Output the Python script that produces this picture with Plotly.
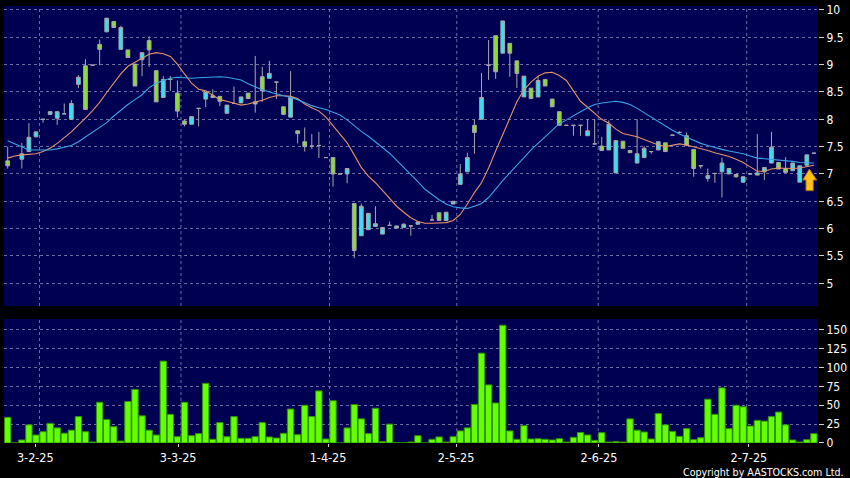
import plotly.graph_objects as go

# ---------------- data (one slot per trading day) ----------------
opens = [7.24, None, 7.27, 7.41, 7.68, 8.00, 8.09, 8.02, 8.10, 8.00,
         8.64, 8.98, 8.99, 9.37, 9.60, 9.79, 9.28, 9.27, 9.01, 9.09,
         9.44, 8.89, 8.40, 8.73, 8.48, 7.97, 7.91, 8.20, 8.37, 8.40,
         8.42, 8.11, 8.29, 8.30, 8.48, 8.28, 8.78, 8.75, 8.68, 8.23,
         8.04, 7.79, 7.59, 7.51, 7.52, 7.30, 7.30, 7.00, 7.00, 6.46,
         5.87, 5.98, 6.04, 5.90, 6.06, 6.01, 6.02, 6.05, 6.08, None,
         6.16, 6.29, 6.15, 6.45, 6.81, 7.04, 7.89, 8.00, 8.99, 9.53,
         9.21, 9.39, 9.07, 8.41, 8.57, 8.41, 8.73, 8.37, 8.14, 7.89,
         7.89, 7.89, 7.70, 7.55, 7.51, 7.44, 7.02, 7.60, 7.43, 7.20,
         7.30, 7.41, 7.44, 7.57, 7.71, 7.76, 7.70, 7.45, 7.15, 6.92,
         7.01, 7.04, 7.00, 6.99, 6.85, 7.00, 6.98, 7.04, 7.20, 7.21,
         7.10, 7.06, 6.85, 7.16, 7.38]
highs = [7.50, None, 7.57, 7.93, 7.78, 8.00, 8.14, 8.14, 8.29, 8.35,
         8.81, 9.10, 8.99, 9.46, 9.85, 9.79, 9.71, 9.27, 9.01, 9.22,
         9.52, 8.89, 8.79, 8.79, 8.71, 8.00, 8.05, 8.20, 8.50, 8.55,
         8.42, 8.26, 8.60, 8.41, 8.48, 9.16, 8.96, 9.07, 8.68, 8.23,
         8.88, 7.79, 7.85, 7.73, 7.77, 7.30, 7.30, 7.00, 7.10, 6.46,
         6.46, 6.28, 6.41, 6.02, 6.13, 6.05, 6.10, 6.05, 6.12, None,
         6.25, 6.29, 6.30, 6.50, 7.18, 7.39, 8.00, 8.85, 9.45, 9.53,
         9.80, 9.39, 9.07, 8.79, 8.57, 8.79, 8.73, 8.37, 8.14, 7.89,
         7.89, 7.89, 8.00, 8.00, 7.68, 7.98, 7.61, 7.60, 7.43, 8.00,
         7.51, 7.41, 7.59, 7.57, 7.71, 7.78, 7.76, 7.45, 7.15, 7.10,
         7.01, 7.30, 7.10, 6.99, 6.95, 7.00, 7.73, 7.12, 7.77, 7.21,
         7.31, 7.20, 7.15, 7.35, 7.38]
lows = [7.10, None, 7.10, 7.41, 7.67, 7.94, 8.09, 7.90, 8.10, 8.00,
        8.57, 8.18, 8.99, 8.99, 9.60, 9.68, 9.28, 9.13, 8.61, 8.79,
        8.96, 8.32, 8.40, 8.52, 8.04, 7.87, 7.91, 7.87, 8.22, 8.40,
        8.24, 8.11, 8.29, 8.30, 8.38, 8.12, 8.32, 8.75, 8.37, 8.09,
        8.04, 7.56, 7.41, 7.46, 7.29, 7.30, 6.77, 7.00, 6.83, 5.46,
        5.87, 5.98, 6.04, 5.90, 6.06, 6.01, 6.02, 5.87, 6.08, None,
        6.16, 6.15, 6.15, 6.45, 6.81, 7.04, 7.37, 8.00, 8.72, 8.74,
        9.21, 8.78, 8.57, 8.41, 8.38, 8.41, 8.61, 8.23, 7.89, 7.89,
        7.70, 7.70, 7.70, 7.55, 7.43, 7.44, 7.02, 7.47, 7.39, 7.20,
        7.30, 7.37, 7.44, 7.41, 7.71, 7.74, 7.52, 6.95, 7.10, 6.86,
        6.84, 6.57, 7.00, 6.93, 6.84, 7.00, 6.98, 6.89, 7.20, 7.09,
        7.03, 7.06, 6.85, 7.16, 7.38]
closes = [7.15, None, 7.37, 7.67, 7.77, 8.00, 8.14, 8.14, 8.10, 8.29,
          8.77, 8.18, 8.99, 9.28, 9.85, 9.68, 9.68, 9.13, 8.61, 9.22,
          9.27, 8.32, 8.73, 8.73, 8.15, 7.91, 8.05, 8.20, 8.50, 8.43,
          8.33, 8.26, 8.29, 8.41, 8.38, 8.32, 8.52, 8.84, 8.68, 8.09,
          8.40, 7.74, 7.50, 7.51, 7.52, 7.30, 7.00, 7.00, 7.10, 5.60,
          6.41, 6.28, 6.09, 6.02, 6.06, 6.05, 6.08, 6.05, 6.12, None,
          6.16, 6.15, 6.30, 6.50, 7.00, 7.30, 7.76, 8.40, 8.99, 8.87,
          9.80, 9.21, 8.84, 8.79, 8.38, 8.71, 8.61, 8.23, 7.89, 7.89,
          7.89, 7.89, 7.79, 7.55, 7.43, 7.91, 7.61, 7.47, 7.39, 7.37,
          7.47, 7.41, 7.59, 7.41, 7.71, 7.76, 7.52, 7.10, 7.15, 6.97,
          7.01, 7.20, 7.10, 6.95, 6.95, 7.00, 7.02, 7.12, 7.49, 7.09,
          7.03, 7.20, 7.15, 7.35, 7.38]
volumes = [34, 0, 4, 24, 10.6, 15, 26, 20, 13, 17,
           35, 15, 1.3, 54, 31, 21.6, 2.6, 55, 71, 36,
           17, 10.6, 108.5, 38, 8.4, 54, 9.7, 12.4, 79, 4.9,
           27, 8.4, 35, 6.2, 6.2, 8.4, 27, 8, 6.6, 12.8,
           45, 11, 50, 35, 69, 5.3, 56, 0, 20, 51,
           32, 12.4, 46, 1.8, 25, 0.4, 0.4, 1.3, 9.7, 0,
           4.9, 8, 1.3, 8.4, 16, 20, 51, 119, 77, 53,
           156, 16, 4.9, 23, 5.3, 5.7, 4.9, 4, 5.7, 1.3,
           7.5, 14, 10.6, 3.5, 13.7, 1.3, 1.8, 1.3, 32, 17,
           14.6, 5.3, 39, 24, 15.4, 8.8, 19, 4.4, 7, 58,
           38, 73, 19, 50, 48, 22.5, 30, 29, 35, 41,
           24, 4, 1.3, 4.4, 12.4]
ma_short = [7.29, 7.33, 7.35, 7.36, 7.37, 7.41, 7.47, 7.56, 7.66, 7.77,
            7.90, 8.02, 8.16, 8.31, 8.49, 8.67, 8.83, 8.97, 9.04, 9.12,
            9.19, 9.22, 9.20, 9.15, 9.01, 8.83, 8.66, 8.55, 8.52, 8.44,
            8.36, 8.33, 8.29, 8.26, 8.28, 8.31, 8.35, 8.40, 8.43, 8.43,
            8.42, 8.38, 8.28, 8.21, 8.15, 8.04, 7.89, 7.74, 7.57, 7.35,
            7.12, 6.96, 6.84, 6.70, 6.55, 6.41, 6.30, 6.20, 6.13, 6.10,
            6.10, 6.10, 6.11, 6.15, 6.26, 6.45, 6.66, 6.84, 7.11, 7.42,
            7.71, 8.02, 8.32, 8.54, 8.68, 8.79, 8.85, 8.86, 8.80, 8.71,
            8.53, 8.33, 8.22, 8.11, 8.00, 7.93, 7.82, 7.74, 7.71, 7.68,
            7.63, 7.58, 7.53, 7.50, 7.53, 7.55, 7.53, 7.50, 7.47, 7.43,
            7.39, 7.36, 7.32, 7.27, 7.21, 7.13, 7.05, 7.05, 7.09, 7.11,
            7.10, 7.10, 7.11, 7.14, 7.16]
ma_long = [7.61, 7.55, 7.49, 7.44, 7.44, 7.44, 7.44, 7.46, 7.49, 7.52,
           7.59, 7.68, 7.76, 7.85, 7.94, 8.06, 8.17, 8.27, 8.36, 8.45,
           8.58, 8.66, 8.71, 8.75, 8.77, 8.76, 8.75, 8.76, 8.77, 8.78,
           8.78, 8.77, 8.75, 8.72, 8.65, 8.59, 8.54, 8.50, 8.47, 8.44,
           8.40, 8.36, 8.30, 8.25, 8.21, 8.18, 8.13, 8.08, 7.99, 7.88,
           7.78, 7.69, 7.59, 7.49, 7.38, 7.25, 7.12, 7.00, 6.86, 6.72,
           6.62, 6.53, 6.45, 6.40, 6.38, 6.37, 6.41, 6.46, 6.57, 6.73,
           6.88, 7.02, 7.17, 7.30, 7.44, 7.56, 7.69, 7.81, 7.92, 7.99,
           8.07, 8.14, 8.21, 8.27, 8.30, 8.32, 8.33, 8.31, 8.27, 8.20,
           8.12, 8.03, 7.95, 7.88, 7.80, 7.73, 7.67, 7.61, 7.56, 7.52,
           7.48, 7.45, 7.42, 7.40, 7.37, 7.33, 7.29, 7.28, 7.27, 7.26,
           7.24, 7.23, 7.21, 7.20, 7.20]
tick_labels = ["3-2-25", "3-3-25", "1-4-25", "2-5-25", "2-6-25", "2-7-25"]
tick_slots = [3.9, 24.1, 45.3, 63.4, 83.6, 104.8]
month_grid_slots = [4.5, 24.5, 45.5, 63.5, 83.5, 104.5]
price_ticks = [5, 5.5, 6, 6.5, 7, 7.5, 8, 8.5, 9, 9.5, 10]
volume_ticks = [0, 25, 50, 75, 100, 125, 150]

# ---------------- styling ----------------
BG = "#000052"
GRID = "#6d6da3"
UP_FILL = "#2fe3f2"
DOWN_FILL = "#8ade2c"
WICK = "#a8a8a8"
FONT = "DejaVu Sans Condensed, DejaVu Sans"

slots = list(range(len(closes)))
keep = [i for i in slots if opens[i] is not None]

fig = go.Figure()
fig.add_trace(go.Candlestick(
    x=[slots[i] for i in keep],
    open=[opens[i] for i in keep], high=[highs[i] for i in keep],
    low=[lows[i] for i in keep], close=[closes[i] for i in keep],
    increasing=dict(line=dict(color=WICK, width=1), fillcolor=UP_FILL),
    decreasing=dict(line=dict(color=WICK, width=1), fillcolor=DOWN_FILL),
    whiskerwidth=0, xaxis="x", yaxis="y", showlegend=False, hoverinfo="skip"))
fig.add_trace(go.Scatter(x=slots, y=ma_short, mode="lines",
                         line=dict(color="#e6926a", width=1.1),
                         xaxis="x", yaxis="y", showlegend=False, hoverinfo="skip"))
fig.add_trace(go.Scatter(x=slots, y=ma_long, mode="lines",
                         line=dict(color="#3ba3e6", width=1.1),
                         xaxis="x", yaxis="y", showlegend=False, hoverinfo="skip"))
fig.add_trace(go.Bar(x=slots, y=volumes, width=0.9,
                     marker=dict(color="#66ff00", line=dict(color="#2e9400", width=1)),
                     xaxis="x2", yaxis="y2", showlegend=False, hoverinfo="skip"))

xr = [-0.523, 114.58]
common_y = dict(side="right", showgrid=True, gridcolor=GRID, griddash="3px,3px",
                gridwidth=1, zeroline=False, showline=False, ticks="outside",
                ticklen=5, tickcolor="#cfcfcf", tickfont=dict(color="white", size=12, family=FONT))

shapes = []
for g in month_grid_slots:
    for xref, yref in (("x", "y domain"), ("x2", "y2 domain")):
        shapes.append(dict(type="line", xref=xref, yref=yref, x0=g, x1=g, y0=0, y1=1,
                           line=dict(color=GRID, width=1, dash="3px,3px"), layer="below"))
# yellow up-arrow marker near the last candle
shapes.append(dict(type="path", xref="x", yref="y",
                   path="M 113.35 7.09 L 114.4 6.89 L 113.91 6.89 L 113.91 6.695 "
                        "L 112.88 6.695 L 112.88 6.89 L 112.42 6.89 Z",
                   fillcolor="#ffc21a", line=dict(color="#a86e00", width=1)))

fig.update_layout(
    width=850, height=478,
    margin=dict(l=4, r=32, t=6, b=35),
    paper_bgcolor="black", plot_bgcolor=BG,
    font=dict(family=FONT, color="white"),
    boxgap=0.25,
    xaxis=dict(domain=[0, 1], anchor="y", range=xr, showticklabels=False, showgrid=False,
               zeroline=False, rangeslider=dict(visible=False), ticks=""),
    xaxis2=dict(domain=[0, 1], anchor="y2", range=xr, showgrid=False, zeroline=False,
                tickmode="array", tickvals=tick_slots, ticktext=tick_labels,
                ticks="outside", ticklen=3, tickcolor="#cfcfcf",
                tickfont=dict(color="white", size=12.5, family=FONT)),
    yaxis=dict(domain=[0.3135, 1], anchor="x", range=[4.585, 10.073],
               tickmode="array", tickvals=price_ticks, **common_y),
    yaxis2=dict(domain=[0, 0.2838], anchor="x2", range=[0, 164.3],
                tickmode="array", tickvals=volume_ticks, **common_y),
    shapes=shapes,
    annotations=[dict(text="Copyright by AASTOCKS.com Ltd.", xref="paper", yref="paper",
                      x=1.0344, y=-0.066, xanchor="right", yanchor="middle", showarrow=False,
                      font=dict(color="white", size=10.6, family=FONT))],
)

fig.write_html("out.html", config={"displayModeBar": False},
               post_script="document.body.style.margin='0';document.body.style.background='black';")
